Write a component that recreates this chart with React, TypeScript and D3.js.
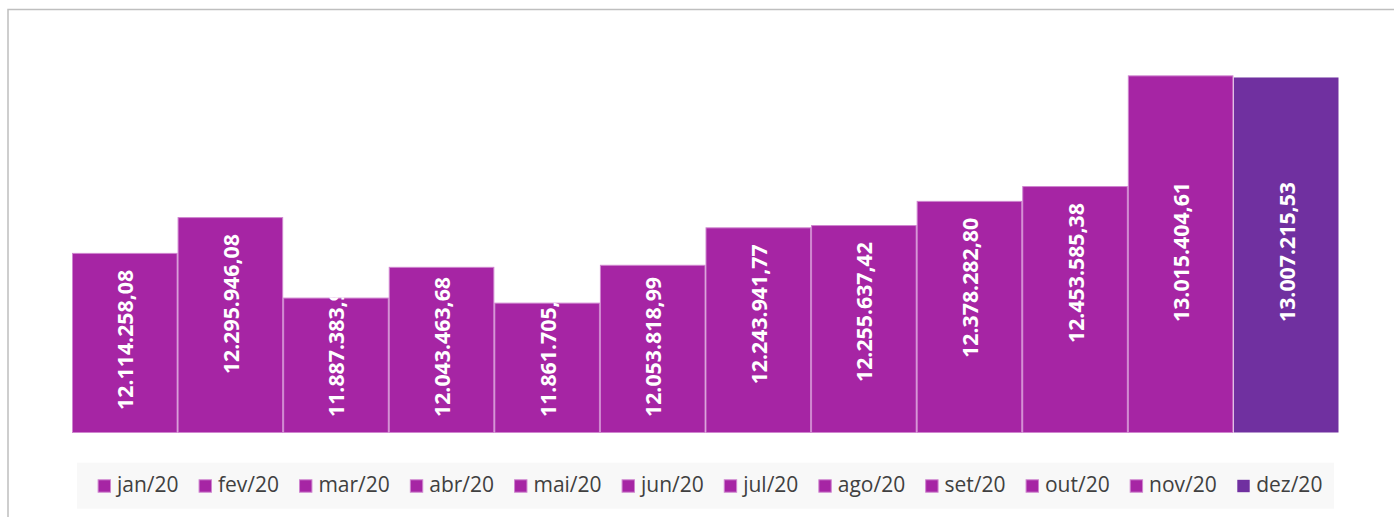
import React from 'react';
import * as d3 from 'd3';

const months = ['jan/20', 'fev/20', 'mar/20', 'abr/20', 'mai/20', 'jun/20', 'jul/20', 'ago/20', 'set/20', 'out/20', 'nov/20', 'dez/20'];
const values = [12114258.08, 12295946.08, 11887383.99, 12043463.68, 11861705.5, 12053818.99, 12243941.77, 12255637.42, 12378282.8, 12453585.38, 13015404.61, 13007215.53];
const valueLabels = ['12.114.258,08', '12.295.946,08', '11.887.383,99', '12.043.463,68', '11.861.705,50', '12.053.818,99', '12.243.941,77', '12.255.637,42', '12.378.282,80', '12.453.585,38', '13.015.404,61', '13.007.215,53'];

const W = 1394;
const H = 517;
const baseColor = '#a625a4';
const edgeColor = '#cf85cf';
const lastColor = '#7030a0';

const labelFont = "bold 21.3px 'Open Sans'";
const legendFont = "21px 'Open Sans'";

const canvas = document.createElement('canvas');
const measure = (txt: string, font: string) => {
    const ctx = canvas.getContext('2d')!;
    ctx.font = font;
    return ctx.measureText(txt).width;
};

export default function App() {
    const x = d3.scaleBand<string>().domain(months).range([72, 1339]).padding(0);
    const y = d3.scaleLinear().domain([11200000, 13200000]).range([433, 39]);
    const baseline = y(11200000);
    const labelCeil = 182; // labels never go higher than this

    const colorOf = (i: number) => (i === months.length - 1 ? lastColor : baseColor);

    // legend layout
    const marker = 13.4;
    const gap = 20;
    const legendItems = months.map((m) => ({ m, w: measure(m, legendFont) }));
    const total = d3.sum(legendItems, (d) => marker + 6 + d.w) + gap * (months.length - 1);
    let cursor = 710 - total / 2;
    const legendPos = legendItems.map((d) => {
        const p = cursor;
        cursor += marker + 6 + d.w + gap;
        return p;
    });

    return (
        <div style={{ position: 'absolute', left: 0, top: 0 }}>
            <svg width={W} height={H} style={{ display: 'block' }}>
                <rect x={0} y={0} width={W} height={H} fill="#fff" />
                <rect x={8} y={9.5} width={W + 20} height={H + 20} fill="#fff" stroke="#bfbfbf" strokeWidth={1.5} />
                <defs>
                    {months.map((m, i) => (
                        <clipPath id={`clip${i}`} key={m}>
                            <rect x={x(m)} y={y(values[i])} width={x.bandwidth()} height={baseline - y(values[i])} />
                        </clipPath>
                    ))}
                </defs>
                <g className="bars">
                    {months.map((m, i) => (
                        <rect
                            key={m}
                            x={x(m)! + 0.5}
                            y={y(values[i]) + 0.5}
                            width={x.bandwidth() - 1}
                            height={baseline - y(values[i]) - 1}
                            fill={colorOf(i)}
                            stroke={i === months.length - 1 ? 'none' : edgeColor}
                            strokeWidth={1}
                        />
                    ))}
                </g>
                <g className="labels">
                    {months.map((m, i) => {
                        const len = measure(valueLabels[i], labelFont);
                        let top = Math.max(y(values[i]) + 17, labelCeil);
                        if (top + len > baseline - 16) top = baseline - 16 - len;
                        const cy = top + len / 2;
                        const cx = x(m)! + x.bandwidth() / 2;
                        return (
                            <g key={m} clipPath={`url(#clip${i})`}>
                                <text
                                    transform={`translate(${cx},${cy}) rotate(-90)`}
                                    textAnchor="middle"
                                    dominantBaseline="central"
                                    fill="#fff"
                                    style={{ font: labelFont }}
                                >
                                    {valueLabels[i]}
                                </text>
                            </g>
                        );
                    })}
                </g>
                <g className="legend">
                    <rect x={77} y={462.7} width={1257} height={46} fill="#f8f8f8" />
                    {legendItems.map((d, i) => (
                        <g key={d.m} transform={`translate(${legendPos[i]},0)`}>
                            <rect
                                x={0.5}
                                y={479.8}
                                width={marker - 1}
                                height={marker - 1}
                                fill={colorOf(i)}
                                stroke={i === months.length - 1 ? 'none' : edgeColor}
                                strokeWidth={1}
                            />
                            <text x={marker + 6} y={491.7} fill="#404040" style={{ font: legendFont }}>
                                {d.m}
                            </text>
                        </g>
                    ))}
                </g>
            </svg>
        </div>
    );
}
